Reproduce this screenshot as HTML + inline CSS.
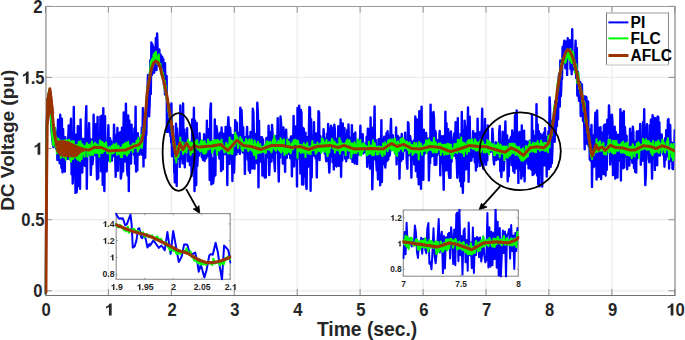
<!DOCTYPE html>
<html><head><meta charset="utf-8"><style>
html,body{margin:0;padding:0;background:#fff;}
svg{display:block;}
</style></head><body>
<svg width="685" height="340" viewBox="0 0 685 340">
<rect width="685" height="340" fill="#fff"/>
<defs>
<clipPath id="cm"><rect x="44.5" y="5.4" width="630.3" height="289.8"/></clipPath>
<clipPath id="c1"><rect x="115.2" y="212.6" width="115.99999999999999" height="67.70000000000002"/></clipPath>
<clipPath id="c2"><rect x="402.3" y="209" width="116.99999999999994" height="68.19999999999999"/></clipPath>
</defs>
<path d="M45.5 6.4V295.2M108.4 6.4V295.2M171.4 6.4V295.2M234.3 6.4V295.2M297.2 6.4V295.2M360.1 6.4V295.2M423.1 6.4V295.2M486.0 6.4V295.2M548.9 6.4V295.2M611.9 6.4V295.2M674.8 6.4V295.2M45.5 290.8H674.8M45.5 219.7H674.8M45.5 148.6H674.8M45.5 77.4H674.8" stroke="#ebebeb" stroke-width="1.2" fill="none"/>
<path d="M45.5 295.2v-6.3M45.5 6.4v6.3M108.4 295.2v-6.3M108.4 6.4v6.3M171.4 295.2v-6.3M171.4 6.4v6.3M234.3 295.2v-6.3M234.3 6.4v6.3M297.2 295.2v-6.3M297.2 6.4v6.3M360.1 295.2v-6.3M360.1 6.4v6.3M423.1 295.2v-6.3M423.1 6.4v6.3M486.0 295.2v-6.3M486.0 6.4v6.3M548.9 295.2v-6.3M548.9 6.4v6.3M611.9 295.2v-6.3M611.9 6.4v6.3M674.8 295.2v-6.3M674.8 6.4v6.3M45.5 290.8h6.3M674.8 290.8h-6.3M45.5 219.7h6.3M674.8 219.7h-6.3M45.5 148.6h6.3M674.8 148.6h-6.3M45.5 77.4h6.3M674.8 77.4h-6.3M45.5 6.3h6.3M674.8 6.3h-6.3" stroke="#8f8f8f" stroke-width="1" fill="none"/>
<path d="M46 6V295.5" stroke="#7a7a7a" stroke-width="1" fill="none"/>
<path d="M675 6V295.5" stroke="#7a7a7a" stroke-width="1" fill="none"/>
<path d="M45.5 6.5H675.5" stroke="#9a9a9a" stroke-width="1" fill="none"/>
<path d="M45.5 295.5H675.5" stroke="#727272" stroke-width="1" fill="none"/>
<g clip-path="url(#cm)" fill="none" stroke-linejoin="round" stroke-linecap="round">
<polyline points="45.5,293.6 46.1,215.9 46.6,129.0 47.2,112.0 47.8,99.2 48.3,96.3 48.9,93.5 49.5,90.6 50.0,92.2 50.6,110.7 51.2,123.7 51.7,132.4 52.3,139.3 52.9,144.3 53.4,147.1 54.0,129.0 54.6,127.8 55.1,129.1 55.7,145.4 56.3,148.7 56.8,132.1 57.4,160.0 58.0,119.7 58.5,153.7 59.1,139.0 59.7,163.2 60.2,114.7 60.8,128.5 61.4,167.8 61.9,118.7 62.5,172.3 63.1,128.9 63.6,155.9 64.2,137.6 64.8,171.6 65.3,137.3 65.9,153.2 66.5,142.0 67.0,142.9 67.6,158.9 68.2,138.5 68.7,125.4 69.3,157.0 69.9,159.2 70.4,132.7 71.0,118.8 71.6,174.3 72.1,133.1 72.7,183.5 73.3,168.7 73.8,106.9 74.4,163.2 75.0,138.8 75.5,192.9 76.1,134.7 76.7,192.1 77.2,179.3 77.8,126.1 78.3,126.4 78.9,185.8 79.5,140.0 80.0,188.8 80.6,119.5 81.2,158.3 81.7,143.9 82.3,172.5 82.9,139.0 83.4,156.3 84.0,164.7 84.6,138.6 85.1,165.9 85.7,123.0 86.3,106.1 86.8,188.7 87.4,141.2 88.0,137.2 88.5,138.7 89.1,123.3 89.7,154.8 90.2,138.6 90.8,174.9 91.4,158.9 91.9,139.9 92.5,164.3 93.1,158.0 93.6,114.8 94.2,154.8 94.8,138.9 95.3,155.0 95.9,124.2 96.5,157.4 97.0,179.3 97.6,117.0 98.2,178.3 98.7,139.6 99.3,141.2 99.9,157.2 100.4,116.4 101.0,171.2 101.6,139.9 102.1,115.4 102.7,184.7 103.3,108.1 103.8,176.3 104.4,191.1 105.0,116.2 105.5,161.5 106.1,141.8 106.7,171.4 107.2,143.6 107.8,141.8 108.4,125.3 108.9,160.2 109.5,158.1 110.1,138.3 110.6,148.5 111.2,141.3 111.8,160.7 112.3,146.5 112.9,145.2 113.5,156.1 114.0,124.6 114.6,143.8 115.2,156.8 115.7,176.9 116.3,135.3 116.9,169.1 117.4,127.9 118.0,170.8 118.6,141.9 119.1,133.2 119.7,159.4 120.3,132.3 120.8,178.6 121.4,174.6 122.0,127.8 122.5,141.1 123.1,171.4 123.7,112.5 124.2,139.7 124.8,128.0 125.4,161.6 125.9,103.7 126.5,136.1 127.1,169.5 127.6,175.5 128.2,115.5 128.8,191.0 129.3,120.4 129.9,137.3 130.5,154.2 131.0,163.6 131.6,124.8 132.2,151.1 132.7,133.3 133.3,142.3 133.9,154.8 134.4,128.5 135.0,163.7 135.6,106.8 136.1,171.6 136.7,159.6 137.3,170.4 137.8,133.3 138.4,154.5 139.0,138.3 139.5,154.7 140.1,137.8 140.7,153.3 141.2,152.9 141.8,127.8 142.3,154.9 142.9,108.1 143.5,166.4 144.0,123.0 144.6,150.5 145.2,157.7 145.7,135.9 146.3,134.7 146.9,102.0 147.4,91.0 148.0,75.0 148.6,89.1 149.1,116.4 149.7,102.1 150.3,60.3 150.8,94.1 151.4,42.4 152.0,75.0 152.5,44.5 153.1,67.4 153.7,47.1 154.2,72.7 154.8,50.2 155.4,59.7 155.9,37.9 156.5,70.1 157.1,33.5 157.6,48.8 158.2,64.2 158.8,64.7 159.3,49.4 159.9,64.0 160.5,54.4 161.0,68.0 161.6,62.3 162.2,56.8 162.7,63.8 163.3,59.2 163.9,84.8 164.4,75.2 165.0,94.5 165.0,63.2 165.3,80.9 165.4,82.9 165.5,81.9 165.7,82.9 165.8,81.9 166.1,94.0 166.2,91.9 166.4,84.0 166.6,76.0 166.8,91.9 166.9,131.8 167.1,129.9 167.3,119.9 167.5,99.9 167.6,98.9 167.8,114.0 167.9,115.8 168.1,109.9 168.3,117.9 168.5,131.8 168.7,125.8 168.8,128.4 169.2,119.4 169.5,125.3 169.8,132.3 170.0,128.4 170.2,130.4 170.4,136.3 170.7,105.5 171.1,142.3 171.4,103.5 171.7,129.4 172.0,156.3 172.3,146.3 172.6,126.3 172.8,126.3 172.9,127.2 173.2,140.2 173.5,142.8 173.8,140.2 174.0,155.8 174.2,172.6 174.4,160.6 174.8,182.3 175.0,170.3 175.3,145.2 175.5,142.8 175.7,144.0 176.0,123.6 176.3,139.1 176.5,165.5 176.7,185.9 177.0,128.4 177.2,131.9 177.5,136.7 177.7,157.0 178.0,144.8 178.6,158.8 179.2,138.9 179.7,166.9 180.3,105.5 180.9,128.7 181.4,159.4 182.0,116.5 182.6,163.4 183.1,103.4 183.7,161.8 184.3,129.5 184.8,167.3 185.4,135.5 186.0,133.8 186.5,151.6 187.1,128.1 187.7,161.3 188.2,142.9 188.8,152.8 189.4,145.8 189.9,165.1 190.5,142.5 191.1,141.9 191.6,176.1 192.2,119.4 192.8,158.0 193.3,160.7 193.9,107.8 194.5,191.1 195.0,120.4 195.6,182.5 196.2,185.1 196.7,122.9 197.3,166.0 197.9,152.6 198.4,141.2 199.0,155.5 199.6,133.3 200.1,143.2 200.7,151.8 201.3,143.7 201.8,157.0 202.4,152.8 203.0,159.9 203.5,151.1 204.1,134.3 204.6,161.0 205.2,135.6 205.8,153.9 206.3,158.3 206.9,120.7 207.5,155.9 208.0,137.0 208.6,129.2 209.2,134.6 209.7,180.1 210.3,110.4 210.9,103.4 211.4,184.4 212.0,174.9 212.6,158.5 213.1,183.4 213.7,177.2 214.3,176.3 214.8,119.4 215.4,175.3 216.0,130.6 216.5,126.1 217.1,131.8 217.7,135.8 218.2,154.1 218.8,137.3 219.4,158.5 219.9,133.6 220.5,132.5 221.1,171.1 221.6,127.5 222.2,161.2 222.8,169.4 223.3,133.8 223.9,140.3 224.5,144.3 225.0,154.1 225.6,127.0 226.2,143.6 226.7,127.6 227.3,185.0 227.9,124.9 228.4,117.1 229.0,131.5 229.6,163.9 230.1,127.7 230.7,136.3 231.3,158.9 231.8,135.0 232.4,181.1 233.0,135.1 233.5,136.7 234.1,172.6 234.7,148.3 235.2,120.1 235.8,125.6 236.4,154.5 236.9,122.6 237.5,152.0 238.1,136.2 238.6,147.5 239.2,132.8 239.8,153.9 240.3,107.6 240.9,128.2 241.5,109.9 242.0,122.9 242.6,152.2 243.2,127.1 243.7,152.5 244.3,139.2 244.9,173.9 245.4,137.1 246.0,152.8 246.6,139.1 247.1,126.9 247.7,159.6 248.3,138.3 248.8,170.3 249.4,136.4 250.0,172.8 250.5,132.0 251.1,161.9 251.7,133.5 252.2,168.4 252.8,108.7 253.4,112.8 253.9,136.9 254.5,168.7 255.1,133.9 255.6,160.3 256.2,161.7 256.8,162.9 257.3,102.7 257.9,114.1 258.5,187.3 259.0,120.7 259.6,161.1 260.2,161.5 260.7,137.2 261.3,158.1 261.9,137.1 262.4,175.6 263.0,139.3 263.6,161.3 264.1,168.3 264.7,177.6 265.3,175.2 265.8,177.4 266.4,137.9 267.0,137.9 267.5,157.2 268.1,155.6 268.6,125.6 269.2,175.1 269.8,161.3 270.3,132.1 270.9,136.7 271.5,161.5 272.0,125.0 272.6,133.9 273.2,157.6 273.7,137.1 274.3,161.4 274.9,171.2 275.4,136.1 276.0,138.1 276.6,152.0 277.1,152.5 277.7,118.3 278.3,164.0 278.8,181.5 279.4,137.2 280.0,157.8 280.5,116.4 281.1,123.0 281.7,153.4 282.2,133.6 282.8,163.5 283.4,127.4 283.9,134.6 284.5,152.0 285.1,171.9 285.6,136.5 286.2,129.7 286.8,158.0 287.3,140.8 287.9,139.6 288.5,152.9 289.0,154.0 289.6,139.6 290.2,158.2 290.7,137.6 291.3,136.3 291.9,176.2 292.4,139.0 293.0,156.6 293.6,115.9 294.1,166.2 294.7,131.6 295.3,158.7 295.8,126.4 296.4,134.8 297.0,186.4 297.5,108.0 298.1,130.6 298.7,158.4 299.2,105.7 299.8,132.5 300.4,173.5 300.9,110.0 301.5,113.2 302.1,184.4 302.6,127.7 303.2,184.5 303.8,128.8 304.3,161.2 304.9,176.3 305.5,132.8 306.0,183.5 306.6,189.0 307.2,137.2 307.7,167.4 308.3,165.7 308.9,130.5 309.4,107.0 310.0,107.7 310.6,190.8 311.1,119.2 311.7,177.2 312.3,137.5 312.8,136.3 313.4,154.7 314.0,122.3 314.5,155.9 315.1,139.5 315.7,158.5 316.2,133.4 316.8,177.4 317.4,135.8 317.9,158.3 318.5,111.2 319.1,113.0 319.6,160.1 320.2,135.9 320.8,149.2 321.3,137.7 321.9,140.8 322.5,142.8 323.0,148.1 323.6,129.3 324.2,139.6 324.7,153.5 325.3,138.9 325.9,158.7 326.4,161.3 327.0,133.6 327.6,160.3 328.1,123.9 328.7,159.2 329.3,172.6 329.8,159.7 330.4,130.7 331.0,125.6 331.5,156.2 332.1,136.8 332.6,162.3 333.2,127.7 333.8,169.4 334.3,124.6 334.9,129.9 335.5,165.6 336.0,153.6 336.6,166.5 337.2,138.7 337.7,156.7 338.3,126.3 338.9,165.8 339.4,139.4 340.0,166.0 340.6,119.4 341.1,176.7 341.7,129.4 342.3,160.6 342.8,123.5 343.4,151.7 344.0,152.7 344.5,128.3 345.1,158.6 345.7,138.2 346.2,161.3 346.8,136.7 347.4,129.8 347.9,158.1 348.5,124.4 349.1,151.5 349.6,138.0 350.2,138.0 350.8,158.2 351.3,152.0 351.9,125.1 352.5,161.9 353.0,156.9 353.6,161.1 354.2,134.0 354.7,163.6 355.3,132.5 355.9,156.0 356.4,141.9 357.0,164.0 357.6,142.0 358.1,153.2 358.7,140.6 359.3,154.6 359.8,143.9 360.4,125.7 361.0,153.8 361.5,142.8 362.1,151.6 362.7,134.1 363.2,153.5 363.8,143.4 364.4,152.2 364.9,145.4 365.5,144.6 366.1,152.4 366.6,136.7 367.2,166.7 367.8,128.6 368.3,129.2 368.9,156.4 369.5,159.1 370.0,168.6 370.6,117.5 371.2,166.5 371.7,127.5 372.3,189.2 372.9,165.4 373.4,134.7 374.0,135.2 374.6,106.5 375.1,159.4 375.7,140.0 376.3,162.5 376.8,170.5 377.4,157.5 378.0,179.4 378.5,139.4 379.1,174.6 379.7,139.0 380.2,185.3 380.8,159.9 381.4,120.1 381.9,182.1 382.5,138.9 383.1,156.7 383.6,164.3 384.2,136.8 384.8,158.5 385.3,167.6 385.9,158.5 386.5,133.3 387.0,161.0 387.6,131.2 388.2,159.6 388.7,135.7 389.3,156.0 389.9,154.6 390.4,134.7 391.0,119.0 391.6,150.1 392.1,149.9 392.7,135.3 393.3,148.7 393.8,147.5 394.4,142.0 395.0,149.8 395.5,154.0 396.1,127.4 396.6,164.4 397.2,137.6 397.8,135.9 398.3,156.7 398.9,137.5 399.5,178.7 400.0,152.8 400.6,137.8 401.2,161.0 401.7,134.0 402.3,149.4 402.9,159.0 403.4,140.1 404.0,151.0 404.6,147.6 405.1,132.7 405.7,148.5 406.3,140.5 406.8,163.2 407.4,168.8 408.0,122.2 408.5,123.2 409.1,155.0 409.7,154.1 410.2,136.3 410.8,141.2 411.4,177.6 411.9,142.0 412.5,158.2 413.1,157.1 413.6,140.7 414.2,164.4 414.8,156.8 415.3,116.5 415.9,171.0 416.5,160.4 417.0,119.4 417.6,176.9 418.2,137.5 418.7,184.3 419.3,111.3 419.9,182.7 420.4,134.3 421.0,188.7 421.6,106.8 422.1,163.0 422.7,157.9 423.3,179.7 423.8,129.7 424.4,154.2 425.0,138.4 425.5,152.2 426.1,132.9 426.7,142.7 427.2,151.5 427.8,153.1 428.4,138.8 428.9,180.4 429.5,156.2 430.1,163.2 430.6,104.6 431.2,156.8 431.8,133.6 432.3,113.4 432.9,155.9 433.5,112.0 434.0,118.3 434.6,164.7 435.2,130.7 435.7,132.8 436.3,164.8 436.9,139.9 437.4,154.9 438.0,142.0 438.6,152.5 439.1,143.4 439.7,131.0 440.3,175.2 440.8,141.4 441.4,163.5 442.0,136.2 442.5,139.1 443.1,161.4 443.7,189.8 444.2,135.7 444.8,170.8 445.4,111.7 445.9,170.2 446.5,123.1 447.1,157.3 447.6,170.3 448.2,129.3 448.8,172.6 449.3,177.8 449.9,133.3 450.5,177.7 451.0,131.5 451.6,161.8 452.2,145.6 452.7,155.7 453.3,142.9 453.9,136.1 454.4,133.1 455.0,155.7 455.6,122.1 456.1,158.1 456.7,159.2 457.3,177.7 457.8,118.1 458.4,173.5 459.0,138.1 459.5,163.9 460.1,181.4 460.6,134.0 461.2,186.2 461.8,111.9 462.3,169.3 462.9,192.8 463.5,130.2 464.0,180.7 464.6,120.6 465.2,133.0 465.7,126.6 466.3,169.4 466.9,165.7 467.4,137.1 468.0,107.4 468.6,181.7 469.1,152.9 469.7,116.6 470.3,160.8 470.8,140.8 471.4,160.6 472.0,139.5 472.5,157.0 473.1,131.1 473.7,154.5 474.2,141.8 474.8,162.3 475.4,133.4 475.9,170.6 476.5,140.2 477.1,166.7 477.6,118.6 478.2,158.4 478.8,161.7 479.3,132.3 479.9,166.0 480.5,159.4 481.0,131.7 481.6,135.7 482.2,108.7 482.7,163.6 483.3,168.7 483.9,134.4 484.4,160.3 485.0,118.9 485.6,161.7 486.1,164.8 486.7,135.7 487.3,160.4 487.8,125.5 488.4,152.3 489.0,153.2 489.5,143.1 490.1,148.9 490.7,151.9 491.2,146.1 491.8,150.7 492.4,128.6 492.9,136.2 493.5,158.1 494.1,164.5 494.6,146.3 495.2,154.7 495.8,142.3 496.3,160.0 496.9,143.5 497.5,143.2 498.0,155.5 498.6,159.4 499.2,132.0 499.7,126.0 500.3,170.9 500.9,168.9 501.4,177.1 502.0,157.4 502.6,131.6 503.1,162.3 503.7,170.5 504.3,159.4 504.8,141.9 505.4,121.5 506.0,158.4 506.5,141.5 507.1,135.5 507.7,181.3 508.2,140.1 508.8,176.2 509.4,141.6 509.9,155.8 510.5,138.2 511.1,136.7 511.6,165.0 512.2,130.5 512.8,143.0 513.3,171.1 513.9,133.1 514.5,172.7 515.0,115.9 515.6,114.3 516.2,168.2 516.7,110.5 517.3,161.7 517.9,140.2 518.4,182.9 519.0,135.1 519.6,132.0 520.1,169.3 520.7,144.8 521.3,178.6 521.8,125.4 522.4,161.6 522.9,147.6 523.5,175.7 524.1,130.7 524.6,181.2 525.2,142.4 525.8,161.4 526.3,141.3 526.9,142.5 527.5,163.8 528.0,142.0 528.6,168.4 529.2,160.0 529.7,140.7 530.3,161.6 530.9,169.4 531.4,167.1 532.0,114.7 532.6,175.1 533.1,130.6 533.7,174.3 534.3,135.6 534.8,172.7 535.4,136.6 536.0,165.8 536.5,104.1 537.1,175.4 537.7,124.5 538.2,184.1 538.8,131.3 539.4,186.4 539.9,158.7 540.5,134.0 541.1,159.2 541.6,135.1 542.2,186.5 542.8,139.0 543.3,137.8 543.9,132.6 544.5,165.3 545.0,128.2 545.6,156.8 546.2,139.7 546.7,176.6 547.3,136.8 547.9,156.7 548.4,131.4 549.0,169.0 549.6,97.4 550.1,108.1 550.7,166.8 551.3,120.7 551.8,163.4 552.4,149.9 553.0,123.6 553.5,134.1 554.1,111.1 554.7,141.8 555.2,101.5 555.8,133.1 556.4,114.2 556.9,126.2 557.5,93.4 558.1,119.3 558.6,78.5 559.2,73.4 559.8,106.5 560.3,60.5 560.9,96.2 561.5,79.9 562.0,78.9 562.6,46.9 563.2,62.4 563.7,47.1 564.3,40.7 564.9,43.0 565.4,68.3 566.0,53.9 566.6,41.2 567.1,74.9 567.7,38.2 568.3,58.4 568.8,40.6 569.4,54.8 570.0,40.1 570.5,68.9 571.1,57.0 571.7,74.2 572.2,29.3 572.8,69.1 573.4,67.0 573.9,53.7 574.5,70.5 575.1,56.1 575.6,40.7 576.2,78.0 576.8,47.9 577.3,95.5 577.9,72.0 578.5,87.3 579.0,100.9 579.6,100.4 580.2,81.9 580.7,116.1 581.3,86.3 581.9,84.3 582.4,105.6 583.0,121.0 583.6,96.3 584.1,117.9 584.7,149.3 585.3,96.4 585.8,141.0 586.4,97.2 586.9,143.8 587.5,137.2 588.1,101.4 588.6,146.3 589.2,129.2 589.8,159.5 590.3,135.9 590.9,161.0 591.5,125.0 592.0,186.9 592.6,135.2 593.2,167.4 593.7,142.1 594.3,166.4 594.9,124.7 595.4,112.6 596.0,136.7 596.6,179.6 597.1,110.4 597.7,137.1 598.3,173.3 598.8,176.8 599.4,128.0 600.0,158.1 600.5,127.1 601.1,179.1 601.7,159.4 602.2,132.8 602.8,140.5 603.4,174.0 603.9,125.4 604.5,156.9 605.1,124.5 605.6,175.5 606.2,139.2 606.8,169.8 607.3,119.6 607.9,133.1 608.5,127.1 609.0,105.5 609.6,120.9 610.2,164.6 610.7,154.9 611.3,132.0 611.9,114.6 612.4,121.1 613.0,175.0 613.6,128.3 614.1,166.6 614.7,126.6 615.3,178.5 615.8,132.0 616.4,169.7 617.0,169.5 617.5,177.6 618.1,134.6 618.7,158.9 619.2,136.4 619.8,160.2 620.4,109.2 620.9,180.4 621.5,112.6 622.1,168.1 622.6,136.1 623.2,168.2 623.8,111.1 624.3,167.4 624.9,126.9 625.5,137.7 626.0,155.4 626.6,135.9 627.2,169.2 627.7,155.4 628.3,144.6 628.9,162.7 629.4,165.5 630.0,128.8 630.6,159.2 631.1,132.8 631.7,142.2 632.3,162.8 632.8,126.7 633.4,133.4 634.0,167.9 634.5,141.7 635.1,171.8 635.7,141.5 636.2,172.6 636.8,131.5 637.4,158.5 637.9,135.0 638.5,131.3 639.1,135.1 639.6,152.1 640.2,124.0 640.8,164.7 641.3,141.3 641.9,153.2 642.5,160.7 643.0,122.3 643.6,154.4 644.2,109.2 644.7,158.8 645.3,185.1 645.9,173.4 646.4,130.9 647.0,124.3 647.6,152.5 648.1,140.9 648.7,158.5 649.3,162.2 649.8,125.2 650.4,154.3 650.9,119.8 651.5,155.6 652.1,178.6 652.6,115.3 653.2,156.0 653.8,117.8 654.3,125.5 654.9,169.9 655.5,118.1 656.0,163.3 656.6,162.2 657.2,165.3 657.7,116.5 658.3,117.2 658.9,155.4 659.4,122.5 660.0,155.6 660.6,139.4 661.1,152.6 661.7,134.5 662.3,151.5 662.8,141.0 663.4,155.0 664.0,153.6 664.5,166.8 665.1,138.3 665.7,159.8 666.2,130.1 666.8,154.2 667.4,156.2 667.9,120.3 668.5,119.1 669.1,168.5 669.6,142.5 670.2,125.0 670.8,154.8 671.3,160.8 671.9,142.8 672.5,168.6 673.0,169.1 673.6,143.2 674.2,155.6 674.7,130.2" stroke="#0000ff" stroke-width="2.4"/>
<polyline points="45.5,293.6 46.1,214.4 46.6,127.6 47.2,110.6 47.8,97.7 48.3,94.9 48.9,92.0 49.5,89.2 50.0,90.8 50.6,109.3 51.2,122.2 51.7,130.9 52.3,137.9 52.9,142.9 53.4,145.7 54.0,136.0 54.6,138.8 55.1,128.2 55.7,147.1 56.3,136.7 56.8,153.4 57.4,140.4 58.0,138.7 58.5,139.1 59.1,152.5 59.7,153.5 60.2,140.5 60.8,157.9 61.4,142.4 61.9,155.7 62.5,140.5 63.1,156.1 63.6,157.3 64.2,141.1 64.8,157.4 65.3,140.0 65.9,159.8 66.5,141.1 67.0,154.3 67.6,143.9 68.2,139.9 68.7,154.7 69.3,139.8 69.9,159.0 70.4,142.0 71.0,161.6 71.6,155.2 72.1,141.0 72.7,158.8 73.3,159.0 73.8,141.2 74.4,157.0 75.0,157.1 75.5,155.2 76.1,144.9 76.7,158.5 77.2,145.1 77.8,160.0 78.3,144.5 78.9,141.7 79.5,156.5 80.0,161.1 80.6,141.3 81.2,155.6 81.7,158.9 82.3,144.3 82.9,153.9 83.4,145.4 84.0,152.6 84.6,156.7 85.1,146.5 85.7,147.3 86.3,145.6 86.8,143.0 87.4,156.6 88.0,145.7 88.5,153.1 89.1,144.6 89.7,153.7 90.2,155.3 90.8,155.1 91.4,143.7 91.9,141.3 92.5,152.8 93.1,155.0 93.6,152.2 94.2,145.0 94.8,142.8 95.3,152.9 95.9,144.1 96.5,152.8 97.0,144.5 97.6,153.0 98.2,149.7 98.7,145.7 99.3,156.7 99.9,140.3 100.4,141.2 101.0,141.7 101.6,152.9 102.1,141.7 102.7,152.8 103.3,143.0 103.8,145.8 104.4,151.1 105.0,144.1 105.5,145.0 106.1,142.3 106.7,146.6 107.2,153.3 107.8,148.4 108.4,148.9 108.9,152.9 109.5,146.8 110.1,162.0 110.6,149.1 111.2,153.0 111.8,146.0 112.3,153.5 112.9,149.0 113.5,144.3 114.0,152.7 114.6,147.3 115.2,145.2 115.7,144.9 116.3,143.5 116.9,154.8 117.4,148.4 118.0,152.2 118.6,145.7 119.1,154.3 119.7,153.3 120.3,148.2 120.8,157.0 121.4,147.6 122.0,157.2 122.5,147.2 123.1,144.7 123.7,153.5 124.2,143.9 124.8,153.7 125.4,147.3 125.9,142.6 126.5,154.3 127.1,155.5 127.6,151.5 128.2,141.7 128.8,153.2 129.3,145.4 129.9,150.6 130.5,149.8 131.0,145.9 131.6,149.6 132.2,144.5 132.7,151.9 133.3,143.5 133.9,144.6 134.4,148.2 135.0,144.2 135.6,147.5 136.1,143.0 136.7,140.8 137.3,147.4 137.8,151.6 138.4,137.7 139.0,149.2 139.5,145.7 140.1,141.1 140.7,146.3 141.2,134.9 141.8,148.0 142.3,143.5 142.9,129.1 143.5,134.9 144.0,124.1 144.6,129.4 145.2,114.0 145.7,115.0 146.3,100.2 146.9,103.2 147.4,87.0 148.0,89.4 148.6,80.8 149.1,81.5 149.7,72.9 150.3,69.0 150.8,61.2 151.4,70.2 152.0,59.0 152.5,66.1 153.1,60.4 153.7,54.3 154.2,60.0 154.8,52.8 155.4,57.7 155.9,51.7 156.5,58.2 157.1,63.8 157.6,56.8 158.2,63.3 158.8,54.6 159.3,65.7 159.9,67.0 160.5,64.0 161.0,74.7 161.6,69.5 162.2,77.1 162.7,72.2 163.3,75.2 163.9,79.0 164.4,88.6 165.0,80.7 165.6,93.2 166.1,85.7 166.7,99.2 167.3,102.0 167.8,99.9 168.4,112.0 169.0,103.8 169.5,117.6 170.1,112.3 170.7,124.7 171.2,118.6 171.8,132.9 172.4,135.0 172.9,131.4 173.5,145.8 174.1,138.0 174.6,144.1 175.2,158.4 175.8,149.3 176.3,162.6 176.9,152.0 177.5,145.9 178.0,157.0 178.6,155.8 179.2,143.4 179.7,147.8 180.3,137.4 180.9,150.1 181.4,143.9 182.0,150.4 182.6,142.2 183.1,154.0 183.7,146.4 184.3,152.0 184.8,150.4 185.4,143.3 186.0,148.1 186.5,152.6 187.1,142.3 187.7,147.4 188.2,139.5 188.8,148.5 189.4,145.8 189.9,142.6 190.5,154.9 191.1,152.9 191.6,142.4 192.2,151.9 192.8,145.4 193.3,152.3 193.9,141.0 194.5,148.5 195.0,141.7 195.6,147.9 196.2,143.6 196.7,140.1 197.3,140.6 197.9,149.6 198.4,145.3 199.0,149.0 199.6,144.4 200.1,151.5 200.7,141.2 201.3,141.9 201.8,140.4 202.4,151.6 203.0,141.8 203.5,153.5 204.1,141.7 204.6,141.2 205.2,153.6 205.8,144.3 206.3,152.5 206.9,144.4 207.5,148.5 208.0,139.5 208.6,149.4 209.2,142.0 209.7,148.4 210.3,142.3 210.9,144.3 211.4,141.8 212.0,153.0 212.6,140.9 213.1,150.6 213.7,141.6 214.3,148.3 214.8,139.9 215.4,148.5 216.0,140.6 216.5,149.2 217.1,155.0 217.7,139.7 218.2,149.7 218.8,141.2 219.4,150.5 219.9,141.3 220.5,149.0 221.1,148.8 221.6,139.6 222.2,147.5 222.8,144.3 223.3,149.3 223.9,149.7 224.5,152.6 225.0,146.3 225.6,150.6 226.2,142.8 226.7,151.5 227.3,144.4 227.9,153.3 228.4,147.2 229.0,153.6 229.6,137.4 230.1,150.5 230.7,141.9 231.3,153.7 231.8,140.5 232.4,153.9 233.0,142.8 233.5,145.9 234.1,140.9 234.7,145.7 235.2,132.6 235.8,136.7 236.4,135.6 236.9,143.5 237.5,137.4 238.1,148.1 238.6,143.4 239.2,140.4 239.8,144.3 240.3,137.1 240.9,139.7 241.5,149.0 242.0,139.7 242.6,150.8 243.2,150.6 243.7,142.7 244.3,147.5 244.9,142.4 245.4,147.9 246.0,139.0 246.6,140.4 247.1,148.5 247.7,142.2 248.3,151.3 248.8,141.8 249.4,139.3 250.0,148.8 250.5,141.9 251.1,150.2 251.7,139.6 252.2,144.5 252.8,151.7 253.4,145.3 253.9,155.0 254.5,140.5 255.1,142.5 255.6,149.6 256.2,158.6 256.8,144.3 257.3,152.7 257.9,141.7 258.5,153.1 259.0,146.7 259.6,152.5 260.2,144.0 260.7,152.6 261.3,147.1 261.9,152.1 262.4,146.9 263.0,150.5 263.6,146.5 264.1,152.0 264.7,145.3 265.3,149.9 265.8,152.9 266.4,143.0 267.0,141.2 267.5,149.0 268.1,142.3 268.6,149.0 269.2,150.0 269.8,142.7 270.3,141.7 270.9,149.9 271.5,152.2 272.0,149.9 272.6,142.5 273.2,139.7 273.7,147.5 274.3,135.6 274.9,149.6 275.4,139.9 276.0,150.8 276.6,147.3 277.1,143.7 277.7,147.9 278.3,141.1 278.8,150.0 279.4,142.7 280.0,151.3 280.5,138.2 281.1,152.8 281.7,140.2 282.2,142.8 282.8,142.0 283.4,151.5 283.9,139.3 284.5,155.1 285.1,149.1 285.6,149.0 286.2,149.1 286.8,153.6 287.3,139.5 287.9,142.5 288.5,151.8 289.0,142.0 289.6,143.7 290.2,151.2 290.7,153.4 291.3,149.2 291.9,144.3 292.4,142.4 293.0,149.4 293.6,140.2 294.1,142.3 294.7,144.1 295.3,139.8 295.8,143.9 296.4,144.1 297.0,140.5 297.5,157.9 298.1,141.1 298.7,148.9 299.2,150.8 299.8,148.4 300.4,144.7 300.9,153.0 301.5,145.2 302.1,149.0 302.6,145.4 303.2,152.6 303.8,143.2 304.3,150.2 304.9,144.9 305.5,157.1 306.0,146.3 306.6,150.6 307.2,142.8 307.7,151.1 308.3,153.5 308.9,147.0 309.4,147.5 310.0,153.7 310.6,154.2 311.1,145.9 311.7,150.4 312.3,141.0 312.8,145.6 313.4,150.1 314.0,144.6 314.5,149.7 315.1,144.7 315.7,153.7 316.2,144.9 316.8,152.5 317.4,142.5 317.9,144.7 318.5,148.4 319.1,151.0 319.6,150.4 320.2,143.8 320.8,143.6 321.3,152.9 321.9,138.3 322.5,150.8 323.0,139.2 323.6,143.2 324.2,148.7 324.7,151.9 325.3,142.4 325.9,149.2 326.4,139.8 327.0,153.0 327.6,156.2 328.1,151.1 328.7,142.1 329.3,152.5 329.8,143.1 330.4,147.9 331.0,143.4 331.5,140.9 332.1,138.7 332.6,140.7 333.2,148.7 333.8,141.6 334.3,141.7 334.9,152.7 335.5,143.2 336.0,150.2 336.6,144.5 337.2,149.1 337.7,144.5 338.3,150.2 338.9,150.7 339.4,138.1 340.0,153.6 340.6,140.7 341.1,150.6 341.7,143.3 342.3,143.9 342.8,150.1 343.4,143.8 344.0,149.8 344.5,150.2 345.1,143.7 345.7,155.2 346.2,141.4 346.8,150.3 347.4,139.6 347.9,144.8 348.5,144.3 349.1,151.0 349.6,140.3 350.2,149.4 350.8,143.4 351.3,157.7 351.9,143.5 352.5,153.5 353.0,143.6 353.6,151.7 354.2,152.9 354.7,142.2 355.3,152.6 355.9,145.6 356.4,153.1 357.0,147.3 357.6,139.2 358.1,151.2 358.7,141.7 359.3,141.8 359.8,154.8 360.4,140.1 361.0,155.6 361.5,146.2 362.1,153.2 362.7,143.9 363.2,150.8 363.8,143.2 364.4,146.1 364.9,144.9 365.5,146.2 366.1,146.1 366.6,155.0 367.2,155.3 367.8,146.8 368.3,154.2 368.9,141.8 369.5,153.6 370.0,153.5 370.6,146.0 371.2,153.5 371.7,145.5 372.3,155.3 372.9,140.2 373.4,145.9 374.0,155.1 374.6,143.1 375.1,144.7 375.7,151.0 376.3,147.0 376.8,154.4 377.4,147.0 378.0,151.4 378.5,154.2 379.1,146.2 379.7,151.5 380.2,147.1 380.8,150.8 381.4,154.3 381.9,147.0 382.5,156.2 383.1,143.2 383.6,151.5 384.2,146.2 384.8,154.6 385.3,142.2 385.9,145.3 386.5,148.6 387.0,144.6 387.6,151.3 388.2,140.2 388.7,140.6 389.3,148.5 389.9,147.9 390.4,139.3 391.0,145.5 391.6,150.3 392.1,149.5 392.7,139.2 393.3,150.0 393.8,142.5 394.4,152.3 395.0,138.4 395.5,151.1 396.1,155.0 396.6,142.8 397.2,155.9 397.8,141.3 398.3,149.4 398.9,150.8 399.5,143.9 400.0,148.6 400.6,139.2 401.2,148.8 401.7,149.1 402.3,138.1 402.9,151.5 403.4,146.7 404.0,139.7 404.6,148.3 405.1,147.5 405.7,147.2 406.3,141.3 406.8,148.6 407.4,142.1 408.0,149.9 408.5,143.7 409.1,153.6 409.7,142.6 410.2,151.8 410.8,144.8 411.4,150.3 411.9,145.1 412.5,154.9 413.1,146.4 413.6,153.5 414.2,142.8 414.8,152.6 415.3,144.7 415.9,150.6 416.5,143.0 417.0,152.7 417.6,146.7 418.2,146.6 418.7,159.6 419.3,142.1 419.9,145.6 420.4,151.5 421.0,143.7 421.6,150.5 422.1,154.8 422.7,146.7 423.3,146.5 423.8,150.9 424.4,144.5 425.0,146.1 425.5,150.3 426.1,140.3 426.7,153.0 427.2,145.5 427.8,140.7 428.4,150.5 428.9,139.5 429.5,149.4 430.1,149.2 430.6,141.7 431.2,150.2 431.8,149.2 432.3,142.8 432.9,152.4 433.5,144.1 434.0,137.8 434.6,141.6 435.2,152.4 435.7,142.3 436.3,144.8 436.9,152.3 437.4,149.4 438.0,145.3 438.6,143.6 439.1,149.5 439.7,145.5 440.3,143.3 440.8,155.0 441.4,146.3 442.0,144.9 442.5,151.7 443.1,144.7 443.7,144.7 444.2,154.8 444.8,147.6 445.4,144.5 445.9,153.6 446.5,154.2 447.1,145.4 447.6,143.8 448.2,154.0 448.8,144.2 449.3,153.2 449.9,144.4 450.5,153.7 451.0,144.8 451.6,158.0 452.2,158.3 452.7,154.5 453.3,148.3 453.9,153.4 454.4,143.9 455.0,146.9 455.6,152.3 456.1,143.9 456.7,146.0 457.3,152.9 457.8,139.7 458.4,143.9 459.0,150.8 459.5,140.0 460.1,152.2 460.6,150.7 461.2,137.6 461.8,151.5 462.3,152.9 462.9,142.4 463.5,145.4 464.0,156.0 464.6,143.1 465.2,145.3 465.7,150.8 466.3,144.9 466.9,153.7 467.4,141.5 468.0,149.1 468.6,140.1 469.1,151.4 469.7,140.5 470.3,143.1 470.8,147.4 471.4,139.4 472.0,139.2 472.5,148.6 473.1,148.9 473.7,142.7 474.2,148.5 474.8,139.2 475.4,150.1 475.9,141.1 476.5,150.7 477.1,150.5 477.6,142.8 478.2,148.5 478.8,150.2 479.3,142.0 479.9,153.9 480.5,140.0 481.0,151.9 481.6,140.2 482.2,149.5 482.7,141.7 483.3,142.9 483.9,152.2 484.4,152.0 485.0,144.8 485.6,152.6 486.1,145.0 486.7,149.7 487.3,140.0 487.8,152.0 488.4,141.3 489.0,154.4 489.5,145.3 490.1,142.2 490.7,142.7 491.2,150.1 491.8,150.4 492.4,150.6 492.9,144.2 493.5,144.3 494.1,155.3 494.6,146.7 495.2,154.9 495.8,145.3 496.3,152.5 496.9,145.2 497.5,153.2 498.0,142.9 498.6,153.2 499.2,147.3 499.7,157.2 500.3,144.6 500.9,153.2 501.4,145.8 502.0,147.7 502.6,153.5 503.1,148.9 503.7,146.5 504.3,160.1 504.8,146.7 505.4,157.7 506.0,154.1 506.5,146.3 507.1,156.1 507.7,157.7 508.2,148.0 508.8,154.8 509.4,144.1 509.9,155.7 510.5,143.9 511.1,154.1 511.6,144.1 512.2,143.4 512.8,145.3 513.3,153.2 513.9,145.1 514.5,143.7 515.0,145.6 515.6,155.1 516.2,153.9 516.7,146.6 517.3,154.1 517.9,148.5 518.4,155.8 519.0,147.0 519.6,155.8 520.1,158.3 520.7,149.6 521.3,160.4 521.8,151.8 522.4,160.4 522.9,148.3 523.5,160.5 524.1,152.3 524.6,159.1 525.2,158.6 525.8,145.9 526.3,150.3 526.9,157.0 527.5,147.3 528.0,156.3 528.6,145.1 529.2,152.2 529.7,141.3 530.3,151.7 530.9,145.3 531.4,149.6 532.0,144.4 532.6,151.5 533.1,142.7 533.7,145.5 534.3,149.2 534.8,152.0 535.4,143.0 536.0,152.3 536.5,143.6 537.1,149.3 537.7,141.1 538.2,144.7 538.8,148.9 539.4,144.2 539.9,150.7 540.5,145.1 541.1,140.4 541.6,149.8 542.2,149.5 542.8,142.9 543.3,149.8 543.9,145.1 544.5,150.4 545.0,142.8 545.6,151.0 546.2,143.8 546.7,149.9 547.3,142.8 547.9,152.3 548.4,136.0 549.0,147.4 549.6,147.1 550.1,134.7 550.7,137.9 551.3,135.9 551.8,135.5 552.4,124.6 553.0,117.8 553.5,121.3 554.1,106.3 554.7,113.8 555.2,104.6 555.8,106.3 556.4,95.2 556.9,101.0 557.5,83.0 558.1,91.0 558.6,78.4 559.2,81.2 559.8,71.1 560.3,76.8 560.9,63.7 561.5,69.8 562.0,59.1 562.6,64.8 563.2,59.0 563.7,62.1 564.3,61.0 564.9,61.0 565.4,62.7 566.0,60.6 566.6,51.3 567.1,49.5 567.7,57.5 568.3,52.4 568.8,59.4 569.4,59.8 570.0,49.9 570.5,49.0 571.1,61.7 571.7,63.0 572.2,61.2 572.8,51.6 573.4,53.8 573.9,66.5 574.5,59.8 575.1,73.1 575.6,65.8 576.2,64.3 576.8,69.0 577.3,83.1 577.9,80.9 578.5,73.2 579.0,88.4 579.6,88.1 580.2,84.2 580.7,94.0 581.3,90.0 581.9,97.7 582.4,102.4 583.0,96.0 583.6,110.7 584.1,101.2 584.7,103.1 585.3,121.2 585.8,123.0 586.4,119.4 586.9,121.9 587.5,133.1 588.1,128.6 588.6,138.9 589.2,135.7 589.8,148.5 590.3,144.7 590.9,156.3 591.5,151.1 592.0,159.0 592.6,152.6 593.2,155.0 593.7,155.3 594.3,152.5 594.9,146.5 595.4,152.6 596.0,147.3 596.6,139.2 597.1,151.7 597.7,145.6 598.3,151.4 598.8,142.4 599.4,150.4 600.0,141.2 600.5,143.7 601.1,150.8 601.7,145.3 602.2,150.2 602.8,145.8 603.4,142.7 603.9,153.9 604.5,147.5 605.1,153.9 605.6,147.9 606.2,154.6 606.8,146.8 607.3,146.2 607.9,150.4 608.5,140.1 609.0,152.6 609.6,149.3 610.2,139.8 610.7,150.6 611.3,147.8 611.9,152.4 612.4,144.4 613.0,140.7 613.6,153.8 614.1,148.8 614.7,141.0 615.3,153.1 615.8,149.3 616.4,140.8 617.0,145.2 617.5,150.7 618.1,150.8 618.7,144.6 619.2,149.5 619.8,145.3 620.4,145.3 620.9,152.6 621.5,143.0 622.1,142.6 622.6,152.6 623.2,141.6 623.8,152.3 624.3,151.1 624.9,153.1 625.5,143.5 626.0,143.3 626.6,154.9 627.2,145.5 627.7,142.5 628.3,155.0 628.9,147.1 629.4,155.7 630.0,153.0 630.6,151.6 631.1,146.7 631.7,158.3 632.3,148.0 632.8,144.2 633.4,151.6 634.0,153.2 634.5,156.5 635.1,147.0 635.7,151.4 636.2,152.4 636.8,143.5 637.4,152.6 637.9,150.4 638.5,142.3 639.1,158.3 639.6,144.1 640.2,150.2 640.8,145.3 641.3,144.9 641.9,149.5 642.5,149.6 643.0,138.8 643.6,141.2 644.2,148.6 644.7,141.7 645.3,148.1 645.9,139.3 646.4,149.8 647.0,141.1 647.6,148.3 648.1,149.8 648.7,141.1 649.3,149.4 649.8,149.6 650.4,142.9 650.9,152.7 651.5,143.4 652.1,154.4 652.6,155.2 653.2,141.1 653.8,146.1 654.3,152.6 654.9,152.0 655.5,151.4 656.0,142.1 656.6,150.3 657.2,151.8 657.7,145.2 658.3,140.5 658.9,152.9 659.4,142.5 660.0,149.2 660.6,144.7 661.1,144.0 661.7,152.7 662.3,139.6 662.8,140.3 663.4,149.4 664.0,142.8 664.5,150.8 665.1,152.6 665.7,145.2 666.2,149.2 666.8,141.5 667.4,149.4 667.9,138.1 668.5,146.1 669.1,159.4 669.6,150.7 670.2,146.6 670.8,152.3 671.3,144.1 671.9,156.9 672.5,146.3 673.0,160.4 673.6,144.0 674.2,158.1 674.7,154.0" stroke="#00ff00" stroke-width="2"/>
<polygon points="55.5,142.0 58.0,141.0 64.0,140.8 68.0,141.5 72.0,143.5 76.0,145.5 80.0,147.0 84.0,148.3 84.0,150.8 80.0,153.0 78.0,155.5 75.0,157.0 65.0,156.6 60.0,155.6 57.0,151.5" fill="#993300" stroke="#993300" stroke-width="1"/>
<polygon points="45.8,130 46.3,100 48.5,90 50.2,87.6 51.8,94 53.2,105 54.3,114 50,114.5 47.8,128" fill="#993300"/>
<polyline points="45.9,292.5 46.2,250.0 46.6,180.0 47.2,125.0 48.3,98.0 49.9,88.8 51.2,100.0 52.2,113.0 53.6,127.0 55.5,139.5 57.0,145.0 60.0,148.5 67.0,149.0 74.0,150.0 79.7,150.0 84.0,149.5 89.0,150.0 94.1,147.3 101.3,147.5 109.5,151.1 115.0,150.6 125.9,149.9 135.0,145.9 138.8,144.9 141.7,141.1 143.6,132.5 144.9,119.1 146.1,107.6 147.1,93.2 149.0,81.5 151.2,69.7 153.4,63.1 155.6,61.0 157.9,62.4 160.0,66.8 162.3,75.6 164.5,84.4 166.7,94.7 168.5,106.0 171.3,122.9 173.2,138.2 175.2,151.6 176.1,156.0 178.0,151.6 179.9,143.0 182.8,149.7 185.1,145.9 186.7,143.5 190.7,149.8 194.0,145.5 198.7,147.2 204.3,146.5 212.0,146.0 220.7,144.4 227.8,150.6 237.0,140.3 243.2,145.4 251.3,146.5 260.6,149.5 271.8,145.4 282.0,145.4 292.2,147.5 300.4,146.5 308.6,149.5 316.8,146.5 330.0,145.4 338.0,147.5 344.0,145.4 354.5,149.1 371.0,148.5 383.2,149.1 391.3,143.4 397.0,146.5 403.6,144.4 411.8,148.5 420.0,149.1 430.2,146.5 440.0,147.5 450.6,151.6 460.9,148.5 470.0,145.4 478.0,146.5 486.0,146.8 496.1,149.7 504.9,152.4 511.2,147.8 516.6,150.3 523.4,155.4 530.1,147.8 536.9,146.8 543.7,147.8 546.5,145.5 548.2,143.8 550.2,138.5 552.2,128.0 554.1,114.5 556.0,102.5 557.4,89.7 559.9,74.4 562.6,61.0 565.6,52.4 567.9,49.6 570.4,51.9 573.3,59.1 576.2,70.6 579.0,84.0 582.3,97.4 584.9,111.5 586.8,124.9 589.3,140.2 591.2,151.6 592.2,156.0 594.1,150.7 596.0,144.9 598.3,149.7 600.0,147.8 602.3,146.9 605.3,150.4 610.5,145.2 615.2,147.5 623.4,148.1 629.2,149.9 635.0,149.9 643.2,145.8 650.2,146.4 656.1,148.7 661.9,145.8 667.8,147.5 675.5,151.5" stroke="#993300" stroke-width="3"/>
</g>
<g font-family="Liberation Sans, sans-serif" font-weight="bold" font-size="17.7" fill="#262626">
<g transform="translate(46.20,315.60) scale(0.940,1)"><text x="-4.92" y="0">0</text></g>
<g transform="translate(109.13,315.60) scale(0.940,1)"><path d="M0.265 0.000 L0.430 0.000 L0.430 -0.690 L0.315 -0.690 L0.280 -0.635 L0.220 -0.575 L0.085 -0.505 L0.085 -0.400 L0.180 -0.440 L0.265 -0.490 Z" transform="translate(-4.92,0) scale(17.7)"/></g>
<g transform="translate(172.06,315.60) scale(0.940,1)"><text x="-4.92" y="0">2</text></g>
<g transform="translate(234.99,315.60) scale(0.940,1)"><text x="-4.92" y="0">3</text></g>
<g transform="translate(297.92,315.60) scale(0.940,1)"><text x="-4.92" y="0">4</text></g>
<g transform="translate(360.85,315.60) scale(0.940,1)"><text x="-4.92" y="0">5</text></g>
<g transform="translate(423.78,315.60) scale(0.940,1)"><text x="-4.92" y="0">6</text></g>
<g transform="translate(486.71,315.60) scale(0.940,1)"><text x="-4.92" y="0">7</text></g>
<g transform="translate(549.64,315.60) scale(0.940,1)"><text x="-4.92" y="0">8</text></g>
<g transform="translate(612.57,315.60) scale(0.940,1)"><text x="-4.92" y="0">9</text></g>
<g transform="translate(675.50,315.60) scale(0.940,1)"><path d="M0.265 0.000 L0.430 0.000 L0.430 -0.690 L0.315 -0.690 L0.280 -0.635 L0.220 -0.575 L0.085 -0.505 L0.085 -0.400 L0.180 -0.440 L0.265 -0.490 Z" transform="translate(-9.84,0) scale(17.7)"/><text x="0.00" y="0">0</text></g>
<g transform="translate(42.60,297.10) scale(0.940,1)"><text x="-9.84" y="0">0</text></g>
<g transform="translate(44.40,225.98) scale(0.940,1)"><text x="-24.60" y="0">0.5</text></g>
<g transform="translate(42.40,154.85) scale(0.940,1)"><path d="M0.265 0.000 L0.430 0.000 L0.430 -0.690 L0.315 -0.690 L0.280 -0.635 L0.220 -0.575 L0.085 -0.505 L0.085 -0.400 L0.180 -0.440 L0.265 -0.490 Z" transform="translate(-9.84,0) scale(17.7)"/></g>
<g transform="translate(44.60,83.73) scale(0.940,1)"><path d="M0.265 0.000 L0.430 0.000 L0.430 -0.690 L0.315 -0.690 L0.280 -0.635 L0.220 -0.575 L0.085 -0.505 L0.085 -0.400 L0.180 -0.440 L0.265 -0.490 Z" transform="translate(-24.60,0) scale(17.7)"/><text x="-14.76" y="0">.5</text></g>
<g transform="translate(42.60,12.60) scale(0.940,1)"><text x="-9.84" y="0">2</text></g>
</g>
<text font-family="Liberation Sans, sans-serif" font-weight="bold" font-size="19.3" fill="#262626" x="367.1" y="336.4" text-anchor="middle">Time (sec.)</text>
<text font-family="Liberation Sans, sans-serif" font-weight="bold" font-size="19" fill="#262626" transform="translate(14.2,140.3) rotate(-90)" text-anchor="middle">DC Voltage (pu)</text>
<g fill="none" stroke="#000" stroke-width="1.8">
<ellipse cx="178.6" cy="152" rx="16" ry="38.8"/>
<ellipse cx="520.2" cy="151.3" rx="40.6" ry="38.9"/>
<path d="M186.2 189.1L198.5 211.2"/>
<path d="M500.3 186.2L481 207.6"/>
</g>
<path d="M199.8 213.6L193.2 208.9L196.6 208.2L198.9 205.6Z" fill="#000" stroke="#000" stroke-width="0.8" stroke-linejoin="miter"/>
<path d="M478.9 210.1L481.5 203.2L483.6 205.8L487.1 207Z" fill="#000" stroke="#000" stroke-width="0.8"/>
<rect x="116.2" y="213.6" width="114" height="65.7" fill="#fff"/>
<path d="M116.2 279.3v-1.5M116.2 213.6v1.5M144.7 279.3v-1.5M144.7 213.6v1.5M173.2 279.3v-1.5M173.2 213.6v1.5M201.7 279.3v-1.5M201.7 213.6v1.5M230.2 279.3v-1.5M230.2 213.6v1.5M116.2 274.3h1.5M230.2 274.3h-1.5M116.2 257.5h1.5M230.2 257.5h-1.5M116.2 240.7h1.5M230.2 240.7h-1.5M116.2 223.9h1.5M230.2 223.9h-1.5" stroke="#8f8f8f" stroke-width="1" fill="none"/>
<rect x="116.2" y="213.6" width="114" height="65.7" stroke="#8f8f8f" stroke-width="1.1" fill="none"/>
<g clip-path="url(#c1)" fill="none" stroke-linejoin="round" stroke-linecap="round">
<polyline points="115.8,213.5 118.1,217.6 119.3,218.8 120.5,218.2 121.6,218.8 122.8,218.2 125.2,225.3 126.9,224.1 128.7,219.4 130.5,214.7 131.6,224.1 132.8,247.6 134.6,246.5 136.4,240.6 138.1,228.8 139.3,228.2 141.1,237.1 142.2,238.2 144.0,234.7 145.8,239.4 147.5,247.6 149.3,244.1 150.0,245.6 153.5,240.3 155.9,243.8 158.8,247.9 161.2,245.6 162.4,246.8 164.7,250.3 167.4,232.1 170.6,253.8 173.2,230.9 175.9,246.2 178.8,262.1 181.8,256.2 184.1,244.4 186.5,244.4 187.4,244.9 189.5,252.6 192.4,254.1 195.2,252.6 197.3,261.8 198.7,271.7 200.8,264.6 204.4,277.4 206.5,270.3 209.3,255.5 210.7,254.1 212.8,254.8 215.6,242.8 217.8,251.9 219.9,267.5 222.0,279.5 224.1,245.6 226.2,247.7 228.4,250.5 230.5,262.5" stroke="#0000ff" stroke-width="2"/>
<polyline points="116.2,224.1 117.5,227.0 118.8,227.3 120.0,224.9 121.3,226.3 122.6,227.1 123.9,230.1 125.2,229.6 126.4,231.3 127.7,226.6 129.0,232.6 130.3,229.4 131.6,230.6 132.9,229.1 134.1,228.8 135.4,230.7 136.7,231.9 138.0,230.8 139.3,231.9 140.5,234.4 141.8,232.7 143.1,232.5 144.4,236.9 145.7,235.8 146.9,234.1 148.2,236.5 149.5,237.3 150.8,236.0 152.1,235.4 153.3,238.1 154.6,239.5 155.9,237.5 157.2,236.6 158.5,238.9 159.8,240.0 161.0,238.9 162.3,241.3 163.6,243.3 164.9,242.3 166.2,242.6 167.4,246.1 168.7,247.4 170.0,250.4 171.3,247.5 172.6,250.0 173.8,250.8 175.1,249.9 176.4,253.5 177.7,253.9 179.0,251.0 180.2,254.0 181.5,252.3 182.8,251.4 184.1,250.8 185.4,252.0 186.6,248.5 187.9,253.0 189.2,254.2 190.5,251.5 191.8,256.9 193.1,257.4 194.3,260.7 195.6,259.8 196.9,261.6 198.2,263.2 199.5,261.6 200.7,264.5 202.0,263.4 203.3,264.3 204.6,262.2 205.9,264.8 207.1,263.5 208.4,261.7 209.7,262.9 211.0,263.9 212.3,264.8 213.5,258.8 214.8,263.5 216.1,263.0 217.4,262.3 218.7,260.9 220.0,265.1 221.2,260.6 222.5,263.6 223.8,264.3 225.1,258.4 226.4,259.7 227.6,256.7 228.9,258.3 230.2,259.3" stroke="#00ff00" stroke-width="2.2"/>
<polyline points="116.2,224.9 118.1,225.7 120.1,226.5 122.0,227.3 124.0,228.1 125.9,228.8 127.9,229.6 129.8,230.3 131.8,231.0 133.7,231.6 135.7,232.1 137.6,232.7 139.5,233.2 141.5,233.8 143.4,234.3 145.4,234.9 147.3,235.5 149.3,236.1 151.2,236.9 153.2,237.7 155.1,238.7 157.1,239.6 159.0,240.5 161.0,241.5 162.9,242.5 164.8,243.4 166.8,244.4 168.7,245.4 170.7,246.4 172.6,247.5 174.6,248.5 176.5,249.6 178.5,250.5 180.4,251.2 182.4,251.6 184.3,252.1 186.2,252.7 188.2,253.6 190.1,254.7 192.1,256.0 194.0,257.2 196.0,258.3 197.9,259.3 199.9,260.2 201.8,261.1 203.8,261.8 205.7,262.3 207.7,262.6 209.6,262.7 211.5,262.7 213.5,262.5 215.4,262.1 217.4,261.7 219.3,261.2 221.3,260.7 223.2,260.0 225.2,259.3 227.1,258.5 229.1,257.7 231.0,256.9" stroke="#993300" stroke-width="3.2"/>
</g>
<g font-family="Liberation Sans, sans-serif" font-weight="bold" font-size="8.7" fill="#262626">
<g transform="translate(116.70,290.00)"><path d="M0.265 0.000 L0.430 0.000 L0.430 -0.690 L0.315 -0.690 L0.280 -0.635 L0.220 -0.575 L0.085 -0.505 L0.085 -0.400 L0.180 -0.440 L0.265 -0.490 Z" transform="translate(-6.05,0) scale(8.7)"/><text x="-1.21" y="0">.9</text></g>
<g transform="translate(145.20,290.00)"><path d="M0.265 0.000 L0.430 0.000 L0.430 -0.690 L0.315 -0.690 L0.280 -0.635 L0.220 -0.575 L0.085 -0.505 L0.085 -0.400 L0.180 -0.440 L0.265 -0.490 Z" transform="translate(-8.47,0) scale(8.7)"/><text x="-3.63" y="0">.95</text></g>
<g transform="translate(173.70,290.00)"><text x="-2.42" y="0">2</text></g>
<g transform="translate(202.20,290.00)"><text x="-8.47" y="0">2.05</text></g>
<g transform="translate(230.70,290.00)"><text x="-6.05" y="0">2.</text><path d="M0.265 0.000 L0.430 0.000 L0.430 -0.690 L0.315 -0.690 L0.280 -0.635 L0.220 -0.575 L0.085 -0.505 L0.085 -0.400 L0.180 -0.440 L0.265 -0.490 Z" transform="translate(1.21,0) scale(8.7)"/></g>
<g transform="translate(114.60,277.38)"><text x="-12.09" y="0">0.8</text></g>
<g transform="translate(114.60,260.60)"><path d="M0.265 0.000 L0.430 0.000 L0.430 -0.690 L0.315 -0.690 L0.280 -0.635 L0.220 -0.575 L0.085 -0.505 L0.085 -0.400 L0.180 -0.440 L0.265 -0.490 Z" transform="translate(-4.84,0) scale(8.7)"/></g>
<g transform="translate(114.60,243.82)"><path d="M0.265 0.000 L0.430 0.000 L0.430 -0.690 L0.315 -0.690 L0.280 -0.635 L0.220 -0.575 L0.085 -0.505 L0.085 -0.400 L0.180 -0.440 L0.265 -0.490 Z" transform="translate(-12.09,0) scale(8.7)"/><text x="-7.26" y="0">.2</text></g>
<g transform="translate(114.60,227.04)"><path d="M0.265 0.000 L0.430 0.000 L0.430 -0.690 L0.315 -0.690 L0.280 -0.635 L0.220 -0.575 L0.085 -0.505 L0.085 -0.400 L0.180 -0.440 L0.265 -0.490 Z" transform="translate(-12.09,0) scale(8.7)"/><text x="-7.26" y="0">.4</text></g>
</g>
<rect x="403.3" y="210" width="115" height="66.2" fill="#fff"/>
<path d="M403.3 276.2v-1.5M403.3 210v1.5M460.8 276.2v-1.5M460.8 210v1.5M518.3 276.2v-1.5M518.3 210v1.5M403.3 269.2h1.5M518.3 269.2h-1.5M403.3 243.5h1.5M518.3 243.5h-1.5M403.3 217.8h1.5M518.3 217.8h-1.5" stroke="#8f8f8f" stroke-width="1" fill="none"/>
<rect x="403.3" y="210" width="115" height="66.2" stroke="#8f8f8f" stroke-width="1.1" fill="none"/>
<g clip-path="url(#c2)" fill="none" stroke-linejoin="round" stroke-linecap="round">
<polyline points="403.5,258.1 404.6,231.9 405.6,254.2 406.6,222.7 407.7,246.9 408.7,247.7 409.7,238.6 410.8,243.8 411.8,246.5 412.8,241.3 413.9,245.4 414.9,225.5 415.9,232.3 417.0,252.1 418.0,257.9 419.1,241.5 420.1,249.0 421.1,237.8 422.2,253.8 423.2,238.9 424.2,238.7 425.3,249.7 426.3,253.3 427.3,228.6 428.4,223.1 429.4,263.7 430.4,261.9 431.5,269.3 432.5,251.5 433.5,228.2 434.6,255.9 435.6,263.3 436.6,253.3 437.7,237.5 438.7,219.1 439.8,252.4 440.8,237.1 441.8,231.7 442.9,273.1 443.9,235.9 444.9,268.4 446.0,237.2 447.0,250.0 448.0,234.2 449.1,232.8 450.1,258.4 451.1,227.2 452.2,238.5 453.2,263.9 454.2,229.6 455.3,265.3 456.3,214.0 457.3,212.6 458.4,261.2 459.4,209.2 460.5,255.3 461.5,235.9 462.5,274.5 463.6,231.4 464.6,228.5 465.6,262.2 466.7,240.1 467.7,270.7 468.7,222.6 469.8,255.3 470.8,242.6 471.8,268.1 472.9,227.4 473.9,273.0 474.9,237.9 476.0,255.1 477.0,237.0 478.0,238.0 479.1,257.3 480.1,237.6 481.2,261.5 482.2,253.9 483.2,236.4 484.3,255.3 485.3,262.3 486.3,260.2 487.4,212.9 488.4,267.5 489.4,227.3 490.5,266.8 491.5,231.8 492.5,265.3 493.6,232.7 494.6,259.1 495.6,203.3 496.7,267.7 497.7,221.8 498.7,275.6 499.8,227.9 500.8,277.7 501.9,252.7 502.9,230.4 503.9,253.1 505.0,231.4 506.0,277.7 507.0,234.9 508.1,233.8 509.1,229.1 510.1,258.6 511.2,225.1 512.2,251.0 513.2,235.5 514.3,268.9 515.3,232.9 516.3,250.9 517.4,228.0" stroke="#0000ff" stroke-width="2"/>
<polyline points="403.5,240.3 404.6,244.6 405.6,235.8 406.6,246.6 407.7,236.9 408.7,248.8 409.7,240.6 410.8,237.8 411.8,238.3 412.8,244.9 413.9,245.1 414.9,245.3 415.9,239.6 417.0,239.7 418.0,249.6 419.1,241.8 420.1,249.3 421.1,240.6 422.2,247.0 423.2,240.5 424.2,247.7 425.3,238.4 426.3,247.7 427.3,242.4 428.4,251.3 429.4,240.0 430.4,247.7 431.5,241.0 432.5,242.8 433.5,248.0 434.6,243.8 435.6,241.6 436.6,254.0 437.7,241.8 438.7,251.7 439.8,248.5 440.8,241.5 441.8,250.3 442.9,251.7 443.9,243.0 444.9,249.2 446.0,239.5 447.0,250.0 448.0,239.3 449.1,248.5 450.1,239.5 451.1,238.9 452.2,240.5 453.2,247.7 454.2,240.4 455.3,239.1 456.3,240.8 457.3,249.4 458.4,248.3 459.4,241.7 460.5,248.5 461.5,243.4 462.5,250.1 463.6,242.1 464.6,250.1 465.6,252.3 466.7,244.5 467.7,254.2 468.7,246.5 469.8,254.2 470.8,243.3 471.8,254.3 472.9,246.9 473.9,253.0 474.9,252.6 476.0,241.1 477.0,245.1 478.0,251.1 479.1,242.3 480.1,250.5 481.2,240.4 482.2,246.8 483.2,236.9 484.3,246.3 485.3,240.6 486.3,244.4 487.4,239.7 488.4,246.2 489.4,238.2 490.5,240.8 491.5,244.1 492.5,246.6 493.6,238.5 494.6,246.9 495.6,239.1 496.7,244.2 497.7,236.8 498.7,240.0 499.8,243.8 500.8,239.6 501.9,245.4 502.9,240.4 503.9,236.1 505.0,244.7 506.0,244.4 507.0,238.4 508.1,244.6 509.1,240.4 510.1,245.2 511.2,238.3 512.2,245.7 513.2,239.2 514.3,244.7 515.3,238.3 516.3,246.9 517.4,232.1" stroke="#00ff00" stroke-width="2.2"/>
<polyline points="403.3,241.9 404.8,242.1 406.2,242.3 407.7,242.5 409.1,242.7 410.6,243.0 412.0,243.2 413.5,243.4 414.9,243.6 416.4,243.8 417.9,244.0 419.3,244.2 420.8,244.4 422.2,244.6 423.7,244.8 425.1,245.1 426.6,245.3 428.0,245.5 429.5,245.7 431.0,245.9 432.4,246.2 433.9,246.4 435.3,246.6 436.8,246.8 438.2,246.8 439.7,246.3 441.1,245.8 442.6,245.3 444.1,244.7 445.5,244.2 447.0,243.7 448.4,243.1 449.9,242.9 451.3,243.3 452.8,243.6 454.2,243.9 455.7,244.3 457.2,244.6 458.6,244.9 460.1,245.4 461.5,245.9 463.0,246.5 464.4,247.0 465.9,247.6 467.4,248.1 468.8,248.6 470.3,249.2 471.7,249.6 473.2,248.8 474.6,248.0 476.1,247.2 477.5,246.4 479.0,245.6 480.5,244.7 481.9,243.9 483.4,243.1 484.8,242.8 486.3,242.6 487.7,242.5 489.2,242.4 490.6,242.3 492.1,242.2 493.6,242.1 495.0,242.0 496.5,241.9 497.9,242.0 499.4,242.1 500.8,242.2 502.3,242.4 503.7,242.5 505.2,242.6 506.7,242.7 508.1,242.8 509.6,242.5 511.0,241.9 512.5,241.3 513.9,240.7 515.4,240.0 516.8,239.3 518.3,237.4" stroke="#993300" stroke-width="3.2"/>
</g>
<g font-family="Liberation Sans, sans-serif" font-weight="bold" font-size="8.4" fill="#262626">
<g transform="translate(403.60,286.60)"><text x="-2.34" y="0">7</text></g>
<g transform="translate(461.10,286.60)"><text x="-5.84" y="0">7.5</text></g>
<g transform="translate(518.60,286.60)"><text x="-2.34" y="0">8</text></g>
<g transform="translate(401.80,272.20)"><text x="-11.68" y="0">0.8</text></g>
<g transform="translate(401.80,246.50)"><path d="M0.265 0.000 L0.430 0.000 L0.430 -0.690 L0.315 -0.690 L0.280 -0.635 L0.220 -0.575 L0.085 -0.505 L0.085 -0.400 L0.180 -0.440 L0.265 -0.490 Z" transform="translate(-4.67,0) scale(8.4)"/></g>
<g transform="translate(401.80,220.80)"><path d="M0.265 0.000 L0.430 0.000 L0.430 -0.690 L0.315 -0.690 L0.280 -0.635 L0.220 -0.575 L0.085 -0.505 L0.085 -0.400 L0.180 -0.440 L0.265 -0.490 Z" transform="translate(-11.68,0) scale(8.4)"/><text x="-7.01" y="0">.2</text></g>
</g>
<rect x="606" y="12.5" width="62.5" height="52.5" fill="#fff"/>
<path d="M606.5 12.5V65" stroke="#7a7a7a" stroke-width="1"/>
<path d="M668.5 12.5V65" stroke="#8a8a8a" stroke-width="1"/>
<path d="M606 13H669" stroke="#9a9a9a" stroke-width="1"/>
<path d="M606 65H669" stroke="#c0c0c0" stroke-width="1"/>
<path d="M608.4 22.4H628.4" stroke="#0000ff" stroke-width="2"/>
<path d="M608.4 38.4H628.4" stroke="#00ff00" stroke-width="2"/>
<path d="M608.4 55.5H628.4" stroke="#993300" stroke-width="3"/>
<g font-family="Liberation Sans, sans-serif" font-weight="bold" font-size="15.6" fill="#000">
<text x="630.5" y="27.5">PI</text>
<text x="630.5" y="43.5">FLC</text>
<text x="630.5" y="60.5">AFLC</text>
</g>
</svg>
</body></html>
